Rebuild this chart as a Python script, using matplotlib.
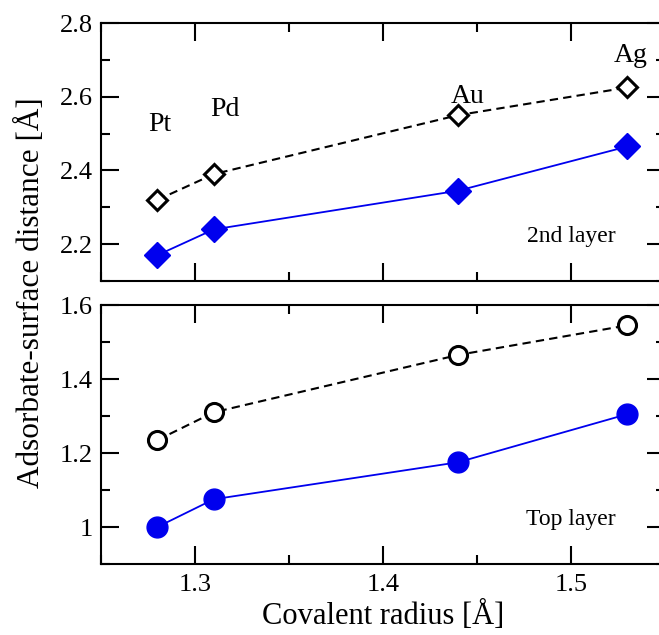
import matplotlib.pyplot as plt
from matplotlib.ticker import MultipleLocator

plt.rcParams['font.family'] = ['Liberation Serif', 'DejaVu Serif']

metals = ["Pt", "Pd", "Au", "Ag"]
radius = [1.28, 1.31, 1.44, 1.53]

# 2nd layer
second_open = [2.32, 2.39, 2.55, 2.625]
second_fill = [2.17, 2.24, 2.345, 2.465]
# top layer
top_open = [1.235, 1.31, 1.465, 1.545]
top_fill = [1.0, 1.075, 1.175, 1.305]

label_pos = [(1.2815, 2.525), (1.316, 2.565), (1.445, 2.60), (1.532, 2.713)]

fig = plt.figure(figsize=(6.59, 6.35), dpi=100)
ax1 = fig.add_axes([101/659, 1-281/635, 564/659, 258/635])
ax2 = fig.add_axes([101/659, 1-564/635, 564/659, 259/635])

ax1.plot(radius, second_open, ls=(0, (4, 2.5)), color="black", lw=1.5,
         marker="D", ms=10, mfc="white", mec="black", mew=2.2)
ax1.plot(radius, second_fill, ls="-", color="#0000ee", lw=1.3,
         marker="D", ms=13, mfc="#0000ee", mec="#0000ee")
ax2.plot(radius, top_open, ls=(0, (4, 2.5)), color="black", lw=1.5,
         marker="o", ms=13, mfc="white", mec="black", mew=2.2)
ax2.plot(radius, top_fill, ls="-", color="#0000ee", lw=1.3,
         marker="o", ms=15, mfc="#0000ee", mec="#0000ee")

for name, (x, y) in zip(metals, label_pos):
    ax1.text(x, y, name, fontsize=20, ha="center", va="center")
ax1.text(1.5, 2.222, "2nd layer", fontsize=17, ha="center", va="center")
ax2.text(1.5, 1.019, "Top layer", fontsize=17, ha="center", va="center")

ax1.set_ylim(2.1, 2.8)
ax2.set_ylim(0.9, 1.6)
ax1.yaxis.set_major_locator(MultipleLocator(0.2))
ax1.yaxis.set_minor_locator(MultipleLocator(0.1))
ax2.yaxis.set_minor_locator(MultipleLocator(0.1))
ax2.set_yticks([1.0, 1.2, 1.4, 1.6])
ax2.set_yticklabels(["1", "1.2", "1.4", "1.6"])

for ax in (ax1, ax2):
    ax.set_xlim(1.25, 1.55)
    ax.xaxis.set_major_locator(MultipleLocator(0.1))
    ax.xaxis.set_minor_locator(MultipleLocator(0.05))
    ax.tick_params(which="both", direction="in", top=True, right=True,
                   width=1.5, labelsize=19)
    ax.tick_params(axis="y", pad=6)
    ax.tick_params(axis="x", pad=7)
    ax.tick_params(which="major", length=13)
    ax.tick_params(which="minor", length=6.5)
    for s in ax.spines.values():
        s.set_linewidth(1.5)

ax1.tick_params(labelbottom=False)
ax2.set_xticks([1.3, 1.4, 1.5])
ax2.set_xticklabels(["1.3", "1.4", "1.5"])
ax2.xaxis.set_minor_locator(MultipleLocator(0.05))

ax2.set_xlabel("Covalent radius [Å]", fontsize=22, labelpad=4)
fig.text(31/659, 1-293/635, "Adsorbate-surface distance [Å]", fontsize=22.5,
         rotation=90, ha="center", va="center")

fig.savefig("out.png", dpi=100)
